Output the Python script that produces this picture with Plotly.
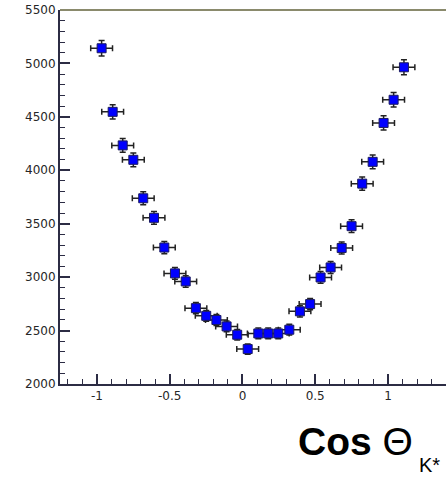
import plotly.graph_objects as go

# Angular distribution: bin centres, counts and uncertainties
cos_theta = [-0.968, -0.892, -0.823, -0.750, -0.682, -0.608, -0.537, -0.464,
             -0.390, -0.320, -0.249, -0.179, -0.109, -0.036, 0.036, 0.109,
             0.177, 0.246, 0.322, 0.395, 0.465, 0.537, 0.606, 0.682,
             0.750, 0.823, 0.895, 0.970, 1.039, 1.110]
counts = [5142, 4547, 4233, 4098, 3738, 3555, 3277, 3035,
          2960, 2710, 2638, 2599, 2539, 2461, 2327, 2473,
          2473, 2473, 2508, 2680, 2748, 2997, 3091, 3273,
          3477, 3875, 4079, 4443, 4660, 4964]
count_err = [72, 67, 65, 64, 61, 60, 57, 55,
             54, 52, 51, 51, 50, 50, 48, 50,
             50, 50, 50, 52, 52, 55, 56, 57,
             59, 62, 64, 67, 68, 70]
bin_half = [0.075] * len(cos_theta)

y_ticks = [2000, 2500, 3000, 3500, 4000, 4500, 5000, 5500]
x_ticks = [-1, -0.5, 0, 0.5, 1]
x_tick_labels = ["-1", "-0.5", "0", "0.5", "1"]

fig = go.Figure()
fig.add_trace(go.Scatter(
    x=cos_theta, y=counts, mode="markers",
    marker=dict(symbol="square", size=9, color="#0000ff",
                line=dict(width=1, color="#1a1a60")),
    error_y=dict(type="data", array=count_err, color="#222222",
                 thickness=1.5, width=3),
    error_x=dict(type="data", array=bin_half, color="#222222",
                 thickness=1.5, width=3),
    showlegend=False,
))

axis_font = dict(family="DejaVu Sans", size=12, color="#262626")

fig.update_xaxes(
    range=[-1.254, 1.399], showgrid=False, zeroline=False,
    showline=True, linecolor="#2c2c44", linewidth=2,
    ticks="inside", ticklen=10, tickwidth=1.5, tickcolor="#2c2c44",
    tickvals=x_ticks, ticktext=x_tick_labels, tickfont=axis_font,
    minor=dict(dtick=0.1, tick0=0, ticks="inside", ticklen=5,
               tickwidth=1, tickcolor="#2c2c44"),
)
fig.update_yaxes(
    range=[2000, 5500], showgrid=False, zeroline=False,
    showline=True, linecolor="#2c2c44", linewidth=2,
    ticks="inside", ticklen=10, tickwidth=1.5, tickcolor="#2c2c44",
    tickvals=y_ticks, tickfont=axis_font,
    minor=dict(dtick=100, tick0=0, ticks="inside", ticklen=5,
               tickwidth=1, tickcolor="#2c2c44"),
)

# frame line along the top of the plotting area
fig.add_shape(type="line", xref="paper", yref="paper",
              x0=0, x1=1, y0=1, y1=1,
              line=dict(color="#8a8a6c", width=2))

# axis title: "Cos Θ" with a lowered K* subscript
fig.add_annotation(
    xref="paper", yref="paper", x=0.612, y=-0.153,
    xanchor="left", yanchor="middle", showarrow=False,
    text="<b>Cos</b> Θ",
    font=dict(family="Liberation Sans", size=39, color="#000000"),
)
fig.add_annotation(
    xref="paper", yref="paper", x=0.928, y=-0.2177,
    xanchor="left", yanchor="middle", showarrow=False, borderpad=0,
    text="K*",
    font=dict(family="Liberation Sans", size=20, color="#000000"),
)

fig.update_layout(
    width=446, height=477,
    margin=dict(l=60, r=0, t=10, b=93),
    paper_bgcolor="white", plot_bgcolor="white",
)

fig.write_html("out.html")
